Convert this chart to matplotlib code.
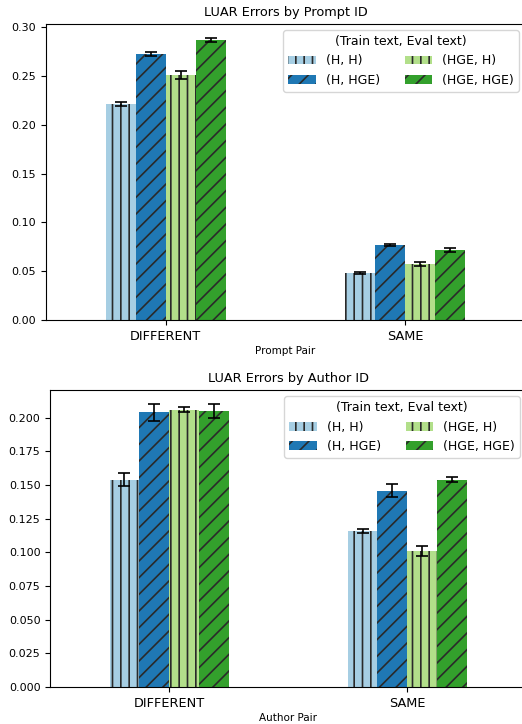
import numpy as np
import matplotlib
matplotlib.use("Agg")
import matplotlib.pyplot as plt

plt.rcParams['hatch.color'] = '#2a2a2a'
plt.rcParams['hatch.linewidth'] = 1.2

groups = ['DIFFERENT', 'SAME']
series = ['(H, H)', '(H, HGE)', '(HGE, H)', '(HGE, HGE)']
colors = ['#a6cee3', '#1f78b4', '#b2df8a', '#33a02c']
hatches = ['||', '//', '||', '//']

prompt_vals = [[0.221, 0.048], [0.273, 0.077], [0.251, 0.057], [0.287, 0.072]]
prompt_err = [[0.002, 0.001], [0.002, 0.0007], [0.004, 0.002], [0.002, 0.002]]

author_vals = [[0.154, 0.116], [0.204, 0.146], [0.206, 0.101], [0.205, 0.154]]
author_err = [[0.005, 0.0015], [0.006, 0.005], [0.002, 0.004], [0.005, 0.002]]

fig = plt.figure(figsize=(5.22, 7.24), dpi=100)
ax1 = fig.add_axes([0.088, 0.558, 0.918, 0.409])
ax2 = fig.add_axes([0.096, 0.051, 0.912, 0.410])


def draw(ax, vals, errs, title, xlabel):
    x = np.arange(len(groups))
    w = 0.125
    for i in range(len(series)):
        ax.bar(x + (i - 1.5) * w, vals[i], w, yerr=errs[i], color=colors[i],
               hatch=hatches[i], linewidth=0, label=series[i],
               error_kw=dict(capsize=4, elinewidth=1.2, capthick=1.2, ecolor='black'))
    ax.set_xlim(-0.5, 1.5)
    ax.set_xticks(x)
    ax.set_xticklabels(groups, fontsize=9.3)
    ax.tick_params(axis='y', labelsize=8)
    ax.set_title(title, fontsize=9.3)
    ax.set_xlabel(xlabel, fontsize=7.5, labelpad=2)
    ax.legend(title='(Train text, Eval text)', ncol=2, loc='upper right',
              fontsize=9, title_fontsize=9, handlelength=2.2)


draw(ax1, prompt_vals, prompt_err, 'LUAR Errors by Prompt ID', 'Prompt Pair')
draw(ax2, author_vals, author_err, 'LUAR Errors by Author ID', 'Author Pair')

fig.savefig('out.png', dpi=100)
